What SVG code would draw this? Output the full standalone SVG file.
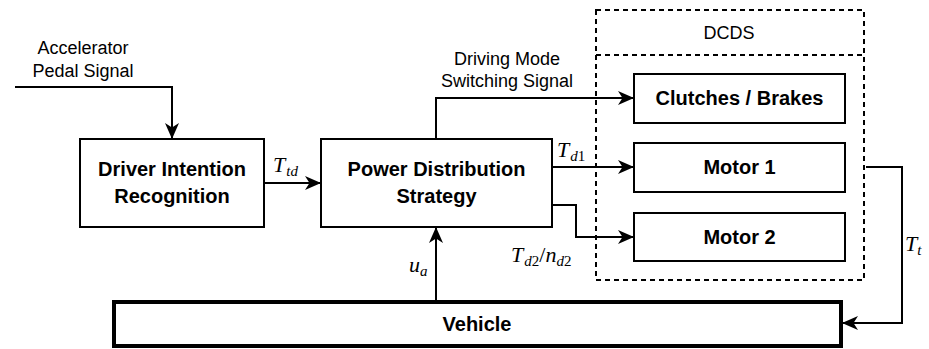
<svg xmlns="http://www.w3.org/2000/svg" width="929" height="349" viewBox="0 0 929 349">
<style>
.box{fill:#fff;stroke:#000;stroke-width:2}
.bl{font-family:"Liberation Sans",Arial,sans-serif;font-weight:bold;font-size:20px;text-anchor:middle}
.lb{font-family:"Liberation Sans",Arial,sans-serif;font-size:18px;text-anchor:middle}
.m{font-family:"Liberation Serif","Times New Roman",serif;font-style:italic;font-size:22px}
.s{font-size:15px}
.n{font-style:normal}
.c{fill:none;stroke:#000;stroke-width:2}
.d{fill:none;stroke:#000;stroke-width:2;stroke-dasharray:5 4}
</style>
<defs>
<marker id="a" viewBox="0 0 16 14" refX="15" refY="7" markerWidth="16" markerHeight="14" markerUnits="userSpaceOnUse" orient="auto">
<path d="M0,0 L16,7 L0,14 L4.5,7 Z" fill="#000"/>
</marker>
</defs>
<g id="dcds">
<rect x="596" y="10" width="268" height="270" class="d"/>
<line x1="596" y1="55" x2="864" y2="55" class="d"/>
<text x="729" y="39" class="lb" font-size="20">DCDS</text>
</g>
<g id="dir">
<rect x="80" y="139" width="184" height="88" class="box"/>
<text x="172" y="176" class="bl">Driver Intention</text>
<text x="172" y="203" class="bl">Recognition</text>
</g>
<g id="pds">
<rect x="321" y="139" width="231" height="88" class="box"/>
<text x="436.5" y="176" class="bl">Power Distribution</text>
<text x="436.5" y="203" class="bl">Strategy</text>
</g>
<g id="cb">
<rect x="634" y="74" width="211" height="49" class="box"/>
<text x="739.5" y="105" class="bl">Clutches / Brakes</text>
</g>
<g id="m1">
<rect x="634" y="143" width="211" height="49" class="box"/>
<text x="739.5" y="174" class="bl">Motor 1</text>
</g>
<g id="m2">
<rect x="634" y="213" width="211" height="48" class="box"/>
<text x="739.5" y="244" class="bl">Motor 2</text>
</g>
<g id="veh">
<rect x="114" y="302" width="727" height="44" fill="#fff" stroke="#000" stroke-width="4"/>
<text x="477" y="331" class="bl">Vehicle</text>
</g>
<g id="connectors">
<path d="M15,87 H172 V138" class="c" marker-end="url(#a)"/>
<path d="M264,183 H320" class="c" marker-end="url(#a)"/>
<path d="M436,139 V98 H633" class="c" marker-end="url(#a)"/>
<path d="M552,167 H633" class="c" marker-end="url(#a)"/>
<path d="M552,205 H576 V237 H633" class="c" marker-end="url(#a)"/>
<path d="M436,301 V228" class="c" marker-end="url(#a)"/>
<path d="M866,167 H902 V323 H843" class="c" marker-end="url(#a)"/>
<text x="83" y="54" class="lb">Accelerator</text>
<text x="83" y="77" class="lb">Pedal Signal</text>
<text x="507" y="65" class="lb">Driving Mode</text>
<text x="507" y="87" class="lb">Switching Signal</text>
<text x="273" y="172" class="m">T<tspan class="s" dy="4" dx="1">td</tspan></text>
<text x="557" y="157" class="m">T<tspan class="s" dy="4" dx="1">d<tspan class="n">1</tspan></tspan></text>
<text x="511" y="262" class="m">T<tspan class="s" dy="4" dx="1">d<tspan class="n">2</tspan></tspan><tspan dy="-4" class="n">/</tspan><tspan>n</tspan><tspan class="s" dy="4">d<tspan class="n">2</tspan></tspan></text>
<text x="409" y="272" class="m">u<tspan class="s" dy="4">a</tspan></text>
<text x="905" y="251" class="m">T<tspan class="s" dy="4">t</tspan></text>
</g>
</svg>
